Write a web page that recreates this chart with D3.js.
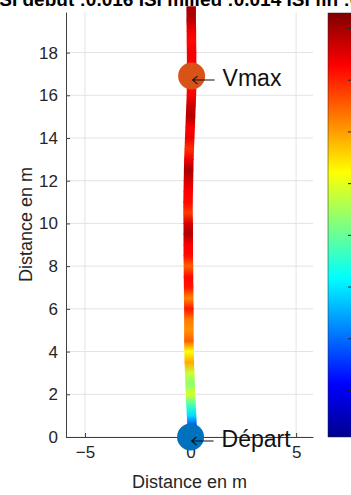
<!DOCTYPE html>
<html>
<head>
<meta charset="utf-8">
<script src="https://cdn.jsdelivr.net/npm/d3@7"></script>
<style>
  html, body { margin: 0; padding: 0; background: #fff; overflow: hidden; }
  svg { display: block; font-family: Arial, "Liberation Sans", sans-serif; }
</style>
</head>
<body>
<svg id="svg" width="351" height="495"></svg>
<script>
// ── Data ──────────────────────────────────────────────────────────────────────

const TITLE = 'ISI début :0.016 ISI milieu :0.014 ISI fin :0.015';

// distance along the run (m)
const along = [0, 0.5, 1, 1.5, 2, 2.5, 3, 3.5, 4, 4.5, 5, 5.5, 6, 6.5, 7, 7.5, 8, 8.5, 9, 9.5,
               10, 10.5, 11, 11.5, 12, 12.5, 13, 13.5, 14, 14.5, 15, 15.5, 16, 16.5, 17, 17.5,
               18, 18.5, 19, 19.5, 20, 20.15];
// lateral drift (m)
const lateral = [0.08, 0.07, 0.05, 0.02, 0, -0.02, -0.04, -0.06, -0.07, -0.08, -0.08, -0.08,
                 -0.08, -0.09, -0.09, -0.1, -0.1, -0.11, -0.11, -0.11, -0.11, -0.12, -0.12,
                 -0.11, -0.1, -0.09, -0.08, -0.06, -0.04, -0.02, 0, 0.02, 0.04, 0.05, 0.05,
                 0.05, 0.05, 0.04, 0.04, 0.03, 0.03, 0.03];
// speed (m/s)
const speed = [0.5, 1.6, 2.9, 3.7, 4.9, 4.3, 4.8, 5.9, 5.2, 6.5, 6.1, 6.3, 7.1, 6.2, 7.1, 7.2,
               6.5, 7.2, 7.3, 7.9, 7.6, 6.8, 7.2, 7.3, 7.6, 8.0, 7.4, 6.9, 7.4, 7.3, 7.9, 7.7,
               7.3, 7.2, 7.2, 7.3, 7.4, 7.2, 7.4, 7.8, 8.0, 8.0];

const markers = [
  { label: 'Départ', x: 0,    y: 0,    color: '#0072BD' },
  { label: 'Vmax',   x: 0.05, y: 16.9, color: '#D95319' }
];

const xTicks = [-5, 0, 5];
const yTicks = [0, 2, 4, 6, 8, 10, 12, 14, 16, 18];
const cTicks = [1, 2, 3, 4, 5, 6, 7, 8];
const xDomain = [-5.9, 5.8];
const yDomain = [0, 19.9];
const cDomain = [0.1, 8.3];

// ── Layout ────────────────────────────────────────────────────────────────────

const plot = { left: 66, right: 313, top: 12, bottom: 437 };
const cbar = { left: 328, width: 25 };
const TEXT = '#262626';

const svg  = d3.select('#svg');
const defs = svg.append('defs');

const x = d3.scaleLinear().domain(xDomain).range([plot.left, plot.right]);
const y = d3.scaleLinear().domain(yDomain).range([plot.bottom, plot.top]);

// jet colormap
const jetStops = [0, 0.125, 0.375, 0.625, 0.875, 1];
const jetCols  = ['#00008f', '#0000ff', '#00ffff', '#ffff00', '#ff0000', '#800000'];
const color = d3.scaleLinear()
  .domain(jetStops.map(t => cDomain[0] + t * (cDomain[1] - cDomain[0])))
  .range(jetCols)
  .clamp(true);

// ── Grid ──────────────────────────────────────────────────────────────────────

const grid = svg.append('g').attr('stroke', '#e3e3e3').attr('stroke-width', 1);
grid.selectAll('.gx').data(xTicks).join('line')
  .attr('x1', d => x(d)).attr('x2', d => x(d))
  .attr('y1', plot.top).attr('y2', plot.bottom);
grid.selectAll('.gy').data(yTicks).join('line')
  .attr('x1', plot.left).attr('x2', plot.right)
  .attr('y1', d => y(d)).attr('y2', d => y(d));

// ── Axes ──────────────────────────────────────────────────────────────────────

const yAxis = svg.append('g')
  .attr('transform', `translate(${plot.left},0)`)
  .call(d3.axisLeft(y).tickValues(yTicks).tickSizeInner(-4).tickSizeOuter(0).tickPadding(8));
const xAxis = svg.append('g')
  .attr('transform', `translate(0,${plot.bottom})`)
  .call(d3.axisBottom(x).tickValues(xTicks).tickSizeInner(-4).tickSizeOuter(0).tickPadding(9));

[xAxis, yAxis].forEach(a => {
  a.select('.domain').attr('stroke', '#404040');
  a.selectAll('.tick line').attr('stroke', '#404040');
  a.selectAll('.tick text').attr('fill', TEXT)
    .style('font-size', '17px').style('font-family', 'Arial, "Liberation Sans", sans-serif');
});

svg.append('text')
  .attr('x', (plot.left + plot.right) / 2).attr('y', 488)
  .attr('text-anchor', 'middle').attr('fill', TEXT)
  .style('font-size', '18px')
  .text('Distance en m');

svg.append('text')
  .attr('transform', `translate(32,${(plot.top + plot.bottom) / 2}) rotate(-90)`)
  .attr('text-anchor', 'middle').attr('fill', TEXT)
  .style('font-size', '18px')
  .text('Distance en m');

// ── Path coloured by speed ────────────────────────────────────────────────────

const pts = along.map((a, i) => ({ px: x(lateral[i]), py: y(a), v: speed[i] }));
const path = svg.append('g');
d3.pairs(pts).forEach(([p0, p1], i) => {
  const gr = defs.append('linearGradient')
    .attr('id', 'seg' + i).attr('gradientUnits', 'userSpaceOnUse')
    .attr('x1', p0.px).attr('y1', p0.py).attr('x2', p1.px).attr('y2', p1.py);
  gr.append('stop').attr('offset', '0%').attr('stop-color', color(p0.v));
  gr.append('stop').attr('offset', '100%').attr('stop-color', color(p1.v));
  path.append('line')
    .attr('x1', p0.px).attr('y1', p0.py + 0.4)
    .attr('x2', p1.px).attr('y2', p1.py - 0.4)
    .attr('stroke', `url(#seg${i})`)
    .attr('stroke-width', 9.5);
});

// ── Markers + annotations ─────────────────────────────────────────────────────

markers.forEach(m => {
  const cx = x(m.x), cy = y(m.y);
  svg.append('circle').attr('cx', cx).attr('cy', cy).attr('r', 13.5).attr('fill', m.color);

  const ax = cx + 1, ay = cy + 4;
  svg.append('path')
    .attr('d', `M${ax + 22},${ay}H${ax} M${ax + 5},${ay - 4}L${ax},${ay}L${ax + 5},${ay + 4}`)
    .attr('fill', 'none').attr('stroke', '#111').attr('stroke-width', 1.1);
  svg.append('text')
    .attr('x', cx + 31).attr('y', cy + 10)
    .attr('fill', '#111').style('font-size', '23px')
    .text(m.label);
});

// ── Colorbar ──────────────────────────────────────────────────────────────────

const cy = d3.scaleLinear().domain(cDomain).range([plot.bottom, plot.top + 1]);
const cg = defs.append('linearGradient').attr('id', 'jet')
  .attr('x1', 0).attr('y1', 1).attr('x2', 0).attr('y2', 0);
jetStops.forEach((t, i) => cg.append('stop').attr('offset', t).attr('stop-color', jetCols[i]));

svg.append('rect')
  .attr('x', cbar.left).attr('y', cy(cDomain[1]))
  .attr('width', cbar.width).attr('height', cy(cDomain[0]) - cy(cDomain[1]))
  .attr('fill', 'url(#jet)').attr('stroke', TEXT).attr('stroke-width', 0.5);

svg.append('g').selectAll('line').data(cTicks).join('line')
  .attr('x1', cbar.left + cbar.width - 5).attr('x2', cbar.left + cbar.width)
  .attr('y1', d => cy(d)).attr('y2', d => cy(d))
  .attr('stroke', TEXT).attr('stroke-width', 1);

// ── Title ─────────────────────────────────────────────────────────────────────

svg.append('text')
  .attr('x', -6).attr('y', 6)
  .attr('fill', '#000').style('font-size', '19px').style('font-weight', 'bold')
  .text(TITLE);
</script>
</body>
</html>
